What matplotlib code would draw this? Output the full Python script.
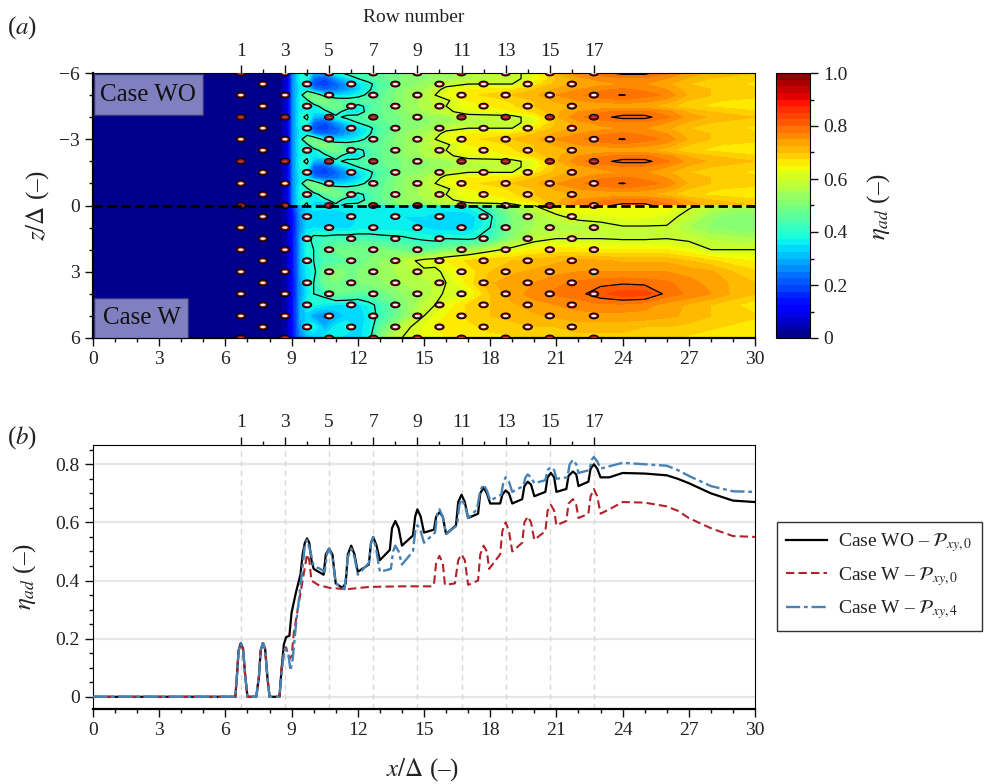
import matplotlib
matplotlib.use("Agg")
import matplotlib.pyplot as plt
import numpy as np
from matplotlib.patches import Ellipse, Rectangle
from matplotlib.ticker import MultipleLocator

plt.rcParams["font.family"] = ["Liberation Serif", "DejaVu Serif"]
plt.rcParams["mathtext.fontset"] = "stix"

W, H = 988, 784

# Data
row_x = [6.7, 7.7, 8.7, 9.7, 10.7, 11.7, 12.7, 13.7, 14.7, 15.7, 16.7, 17.7, 18.7, 19.7, 20.7, 21.7, 22.7]
row_labels = ["1", "3", "5", "7", "9", "11", "13", "15", "17"]
dark_holes = [(1, -6), (1, -4), (1, -2), (1, 0), (3, -4), (3, -2), (3, 0), (5, -4), (5, -2), (5, 0), (7, -4), (7, -2),
              (7, 0), (9, 0), (11, -6), (11, -4), (11, -2), (11, 0), (13, -4), (13, -2), (15, -4), (15, -2), (15, 0),
              (17, -4), (17, -2), (1, 6), (3, 6), (5, 6), (7, 6), (9, 6), (11, 6), (13, 6), (15, 6), (17, 6)]

field_x = [0, 8.4, 8.8, 9.1, 9.4, 9.7, 10, 10.5, 11, 11.5, 12, 12.5, 13, 14, 15, 15.5, 16,
           17, 18, 19, 20, 21, 22, 23, 24, 25, 26, 27, 28, 29, 30]

# Case WO repeats every 2 units of z, rows are 0.25 apart starting at z=-6
wo_phase = [
    [0, 0, .09, .28, .38, .42, .30, .28, .38, .42, .44, .46, .47, .50, .52, .53, .54, .58, .58, .58, .63, .72, .77, .79, .81, .81, .78, .74, .72, .71, .70],
    [0, 0, .09, .28, .38, .38, .22, .20, .27, .34, .40, .44, .46, .50, .52, .53, .54, .56, .57, .58, .63, .70, .74, .76, .77, .77, .75, .72, .70, .69, .68],
    [0, 0, .09, .28, .37, .34, .20, .18, .22, .28, .34, .38, .44, .50, .53, .55, .58, .60, .60, .60, .66, .71, .73, .74, .75, .75, .73, .70, .69, .68, .67],
    [0, 0, .09, .28, .36, .36, .26, .22, .24, .28, .33, .39, .45, .52, .55, .58, .62, .65, .66, .67, .70, .73, .75, .77, .78, .77, .75, .71, .70, .69, .68],
    [0, 0, .09, .28, .37, .50, .50, .36, .33, .34, .37, .42, .46, .52, .56, .60, .63, .67, .68, .70, .72, .75, .77, .79, .802, .785, .77, .72, .70, .70, .69],
    [0, 0, .09, .28, .38, .38, .48, .52, .46, .44, .45, .46, .47, .52, .56, .58, .59, .65, .66, .68, .70, .73, .75, .76, .77, .76, .74, .70, .68, .67, .66],
    [0, 0, .09, .28, .38, .36, .36, .45, .50, .46, .38, .42, .47, .52, .56, .58, .60, .65, .65, .67, .70, .71, .73, .73, .73, .73, .71, .68, .67, .66, .65],
    [0, 0, .09, .28, .37, .38, .36, .38, .44, .36, .34, .44, .47, .52, .55, .57, .59, .62, .63, .65, .68, .72, .75, .77, .78, .78, .76, .72, .70, .69, .68],
]

# Case W, rows are 0.5 apart from z=0 to z=6
w_rows = [
    [0, 0, .06, .18, .30, .34, .36, .36, .36, .37, .37, .37, .37, .37, .37, .37, .37, .38, .45, .53, .60, .64, .65, .65, .65, .65, .64, .61, .58, .56, .56],
    [0, 0, .05, .15, .28, .33, .34, .33, .33, .34, .35, .35, .35, .35, .35, .34, .33, .33, .39, .50, .55, .59, .62, .62, .63, .63, .62, .58, .53, .51, .50],
    [0, 0, .05, .15, .27, .34, .35, .34, .34, .34, .36, .36, .36, .36, .35, .34, .33, .33, .40, .50, .55, .56, .56, .58, .595, .595, .595, .55, .52, .51, .51],
    [0, 0, .05, .15, .30, .38, .42, .42, .43, .43, .43, .43, .42, .41, .39, .38, .40, .39, .42, .52, .58, .60, .60, .60, .595, .595, .60, .59, .57, .56, .55],
    [0, 0, .05, .15, .30, .38, .40, .46, .48, .49, .50, .50, .50, .48, .46, .47, .50, .53, .58, .62, .65, .66, .66, .65, .65, .65, .65, .63, .60, .60, .60],
    [0, 0, .05, .15, .30, .38, .40, .43, .44, .47, .48, .50, .52, .57, .62, .63, .65, .68, .70, .70, .71, .72, .73, .73, .72, .72, .72, .70, .68, .66, .65],
    [0, 0, .05, .15, .30, .36, .38, .50, .52, .50, .50, .52, .53, .56, .59, .58, .62, .66, .70, .72, .73, .74, .75, .75, .75, .75, .75, .74, .73, .70, .68],
    [0, 0, .05, .15, .28, .36, .40, .48, .50, .50, .50, .51, .52, .55, .56, .58, .60, .66, .72, .74, .75, .77, .78, .79, .795, .79, .78, .76, .74, .72, .70],
    [0, 0, .05, .15, .28, .35, .40, .42, .48, .47, .46, .46, .48, .52, .55, .58, .61, .62, .70, .74, .76, .78, .79, .82, .84, .84, .79, .77, .75, .72, .70],
    [0, 0, .05, .15, .30, .38, .38, .36, .35, .35, .34, .38, .42, .50, .58, .60, .63, .68, .70, .72, .74, .75, .76, .77, .77, .76, .74, .72, .70, .68, .66],
    [0, 0, .05, .15, .30, .33, .28, .26, .30, .33, .33, .36, .42, .50, .60, .63, .65, .68, .70, .71, .72, .73, .74, .74, .74, .74, .73, .72, .70, .69, .68],
    [0, 0, .05, .15, .28, .36, .38, .30, .36, .38, .34, .36, .46, .58, .63, .65, .66, .67, .68, .69, .70, .70, .71, .71, .71, .70, .70, .69, .68, .67, .66],
    [0, 0, .05, .15, .25, .30, .32, .36, .36, .33, .33, .38, .50, .60, .63, .64, .65, .66, .67, .67, .68, .68, .69, .69, .69, .69, .68, .67, .66, .65, .65],
]

x_wo = [0, 6.45, 6.52, 6.6, 6.7, 6.8, 6.9, 7.0, 7.4, 7.52, 7.6, 7.7, 7.8, 7.9, 8.0, 8.45, 8.55, 8.65, 8.75, 8.9, 9.0, 9.2,
        9.4, 9.5, 9.6, 9.7, 9.8, 9.9, 10.0, 10.45, 10.55, 10.7, 10.85, 11.0, 11.3, 11.45, 11.55, 11.7, 11.85, 12.0, 12.5,
        12.6, 12.7, 12.85, 13.0, 13.45, 13.55, 13.7, 13.85, 14.0, 14.5, 14.6, 14.7, 14.85, 15.0, 15.45, 15.55, 15.7,
        15.85, 16.0, 16.45, 16.55, 16.7, 16.85, 17.0, 17.45, 17.55, 17.7, 17.85, 18.0, 18.45, 18.55, 18.7, 18.85, 19.0,
        19.45, 19.55, 19.7, 19.85, 20.0, 20.5, 20.6, 20.75, 20.9, 21.0, 21.45, 21.55, 21.75, 21.9, 22.0, 22.45, 22.55,
        22.7, 22.85, 23.0, 23.4, 24, 25, 26, 26.5, 27, 28, 29, 30]
eta_wo = [0, 0, .07, .16, .185, .165, .07, 0, 0, .07, .16, .185, .165, .07, 0, 0, .10, .18, .205, .21, .29, .36,
          .42, .49, .53, .545, .53, .47, .44, .42, .49, .51, .49, .39, .375, .39, .49, .52, .49, .43, .455,
          .53, .55, .52, .47, .505, .58, .605, .58, .52, .555, .62, .645, .62, .565, .575, .62, .635, .62, .56, .59, .67, .695,
          .67, .615, .63, .70, .72, .70, .665, .665, .695, .71, .70, .665, .68, .725, .74, .73, .69, .705, .755, .77, .755, .705,
          .715, .76, .775, .765, .725, .74, .785, .80, .785, .755, .755, .77, .768, .762, .75, .735, .70, .675, .67]

x_red = [0, 6.45, 6.52, 6.6, 6.7, 6.8, 6.9, 7.0, 7.4, 7.52, 7.6, 7.7, 7.8, 7.9, 8.0, 8.45, 8.55, 8.65, 8.75, 8.9, 9.0, 9.1,
         9.3, 9.5, 9.7, 9.8, 9.9, 10.2, 10.7, 11.5, 12.5, 14, 15.3, 15.45, 15.55, 15.7, 15.85, 15.95, 16.4, 16.55, 16.7,
         16.85, 17.0, 17.45, 17.55, 17.7, 17.85, 17.95, 18.45, 18.55, 18.7, 18.85, 19.0, 19.45, 19.55, 19.7, 19.85, 20.0,
         20.5, 20.6, 20.75, 20.9, 21.0, 21.45, 21.55, 21.75, 21.9, 22.0, 22.45, 22.55, 22.7, 22.85, 23.0, 23.4, 24, 25,
         26, 26.5, 27, 28, 29, 30]
eta_red = [0, 0, .07, .16, .185, .165, .07, 0, 0, .07, .16, .185, .165, .07, 0, 0, .10, .16, .17, .13, .14, .22,
           .31, .40, .49, .47, .40, .385, .375, .37, .378, .38, .38, .385, .46, .485, .46, .385, .39, .47, .49,
           .47, .385, .40, .49, .52, .50, .44, .49, .57, .60, .57, .50, .53, .60, .62, .60, .54,
           .57, .64, .66, .64, .59, .605, .665, .68, .66, .615, .63, .69, .715, .69, .63, .645, .67, .668,
           .655, .64, .615, .58, .553, .55]

x_blue = [0, 6.45, 6.52, 6.6, 6.7, 6.8, 6.9, 7.0, 7.4, 7.52, 7.6, 7.7, 7.8, 7.9, 8.0, 8.45, 8.6, 8.7, 8.85, 8.95, 9.05, 9.2,
          9.4, 9.6, 9.7, 9.85, 10.0, 10.3, 10.5, 10.6, 10.7, 10.85, 11.0, 11.4, 11.55, 11.7, 11.85, 12.0, 12.5, 12.6, 12.7,
          12.85, 13.0, 13.5, 13.6, 13.7, 13.85, 14.0, 14.5, 14.6, 14.7, 14.85, 15.0, 15.5, 15.6, 15.7, 15.85, 16.0, 16.5,
          16.6, 16.7, 16.85, 17.0, 17.4, 17.55, 17.7, 17.85, 18.0, 18.5, 18.6, 18.7, 18.85, 19.0, 19.5, 19.6, 19.7, 19.85,
          20.0, 20.5, 20.6, 20.75, 20.9, 21.0, 21.5, 21.6, 21.75, 21.9, 22.0, 22.5, 22.6, 22.7, 22.85, 23.0, 23.5, 24, 25,
          26, 26.5, 27, 28, 29, 30]
eta_blue = [0, 0, .07, .16, .185, .165, .07, 0, 0, .07, .16, .185, .165, .07, 0, 0, .12, .165, .15, .09, .13, .25,
            .38, .52, .54, .50, .45, .44, .43, .49, .51, .48, .39, .37, .48, .51, .48, .42, .46, .53, .55,
            .50, .43, .44, .50, .52, .50, .455, .50, .57, .59, .57, .53, .565, .63, .645, .62, .56, .59,
            .66, .68, .66, .615, .645, .71, .73, .71, .675, .695, .74, .755, .74, .705, .725, .755, .765, .755,
            .735, .745, .78, .79, .78, .75, .755, .80, .815, .80, .77, .78, .815, .825, .81, .785, .795, .805, .80,
            .795, .78, .76, .725, .707, .705]

cbar_ticks = [0, 0.2, 0.4, 0.6, 0.8, 1.0]
cbar_labels = ["0", "0.2", "0.4", "0.6", "0.8", "1.0"]


def axes_box(left, top, right, bottom):
    return [left / W, 1 - bottom / H, (right - left) / W, (bottom - top) / H]


def style_ticks(ax):
    ax.tick_params(which="major", direction="out", length=6, width=1, labelsize=14, color="#111111", labelcolor="#222222")
    ax.tick_params(which="minor", direction="out", length=3, width=1, color="#111111")


def add_row_axis(ax):
    top = ax.twiny()
    top.set_xlim(ax.get_xlim())
    top.set_xticks(row_x[::2])
    top.set_xticklabels(row_labels)
    top.set_xticks(row_x[1::2], minor=True)
    style_ticks(top)
    for spine in top.spines.values():
        spine.set_visible(False)
    return top


fig = plt.figure(figsize=(W / 100, H / 100), dpi=100)

# Panel a, filled contours
ax1 = fig.add_axes(axes_box(93, 73, 755, 338))
levels = np.linspace(0, 1, 41)
z_wo = np.arange(-6, 0.01, 0.25)
z_w = np.arange(0, 6.01, 0.5)
field_wo = np.array([wo_phase[k % 8] for k in range(len(z_wo))])
field_w = np.array(w_rows)
for z, field in ((z_wo, field_wo), (z_w, field_w)):
    cf = ax1.contourf(field_x, z, field, levels=levels, cmap="jet", vmin=0, vmax=1)
    ax1.contour(field_x, z, field, levels=[0.4, 0.6, 0.8], colors="black", linewidths=0.9)
ax1.set_xlim(0, 30)
ax1.set_ylim(6, -6)

# Holes
for n, x in enumerate(row_x, start=1):
    zs = np.arange(-6, 6.01, 1) if n % 2 == 1 else np.arange(-5.5, 5.51, 1)
    for z in zs:
        ax1.add_patch(Ellipse((x, z), 0.47, 0.31, fc="black", ec="none", zorder=4))
        ax1.add_patch(Ellipse((x, z), 0.37, 0.21, fc="#8b1010", ec="none", zorder=5))
        inner = 0.07 if (n, z) in dark_holes else 0.11
        color = "#b05050" if (n, z) in dark_holes else "#fff4f4"
        ax1.add_patch(Ellipse((x, z), 0.24, inner, fc=color, ec="none", zorder=6))

ax1.axhline(0, color="black", lw=2, ls=(0, (3.4, 1.6)), zorder=7)
ax1.add_patch(Rectangle((0.05, -5.95), 4.95, 1.85, fc="#8080c0", ec="#303080", lw=1, zorder=8))
ax1.add_patch(Rectangle((0.05, 4.18), 4.25, 1.8, fc="#8080c0", ec="#303080", lw=1, zorder=8))
ax1.text(2.5, -5.0, "Case WO", fontsize=18, ha="center", va="center", color="#111111", zorder=9)
ax1.text(2.2, 5.1, "Case W", fontsize=18, ha="center", va="center", color="#111111", zorder=9)

ax1.set_xticks(np.arange(0, 31, 3))
ax1.xaxis.set_minor_locator(MultipleLocator(1))
ax1.set_yticks([-6, -3, 0, 3, 6])
ax1.set_yticklabels(["\u22126", "\u22123", "0", "3", "6"])
ax1.yaxis.set_minor_locator(MultipleLocator(1))
style_ticks(ax1)
ax1.spines["left"].set_linewidth(1.6)
ax1.spines["bottom"].set_linewidth(1.6)
add_row_axis(ax1)
fig.text(414 / W, 1 - 18 / H, "Row number", fontsize=14, ha="center", va="center", color="#222222")
fig.text(38 / W, 1 - 205 / H, "$z/\\Delta$ (\u2013)", fontsize=18, rotation=90, ha="center", va="center", color="#222222")

# Colour bar
cax = fig.add_axes(axes_box(776, 73, 810, 338))
cb = fig.colorbar(cf, cax=cax, ticks=cbar_ticks)
cb.ax.set_yticklabels(cbar_labels)
cb.ax.yaxis.set_minor_locator(MultipleLocator(0.1))
style_ticks(cb.ax)
fig.text(879 / W, 1 - 207 / H, "$\\eta_{ad}$ (\u2013)", fontsize=18, rotation=90, ha="center", va="center", color="#222222")

# Panel b, lines
ax2 = fig.add_axes(axes_box(93, 444.5, 755, 708.7))
for y in [0, 0.2, 0.4, 0.6, 0.8]:
    ax2.axhline(y, color="#e6e6e6", lw=1.6, zorder=1)
for x in row_x[::2]:
    ax2.axvline(x, color="#d8d8d8", lw=1, ls=(0, (4, 3)), zorder=1)
ax2.plot(x_wo, eta_wo, color="black", lw=1.6, zorder=3, label="Case WO \u2013 $\\mathcal{P}_{xy,0}$")
ax2.plot(x_red, eta_red, color="#b2222a", lw=1.5, ls=(0, (4, 2)), zorder=4, label="Case W \u2013 $\\mathcal{P}_{xy,0}$")
ax2.plot(x_blue, eta_blue, color="#4682b4", lw=1.7, ls=(0, (6, 1.6, 1.6, 1.6)), zorder=5, label="Case W \u2013 $\\mathcal{P}_{xy,4}$")
ax2.set_xlim(0, 30)
ax2.set_ylim(-0.041, 0.868)
ax2.set_xticks(np.arange(0, 31, 3))
ax2.xaxis.set_minor_locator(MultipleLocator(1))
ax2.set_yticks([0, 0.2, 0.4, 0.6, 0.8])
ax2.set_yticklabels(["0", "0.2", "0.4", "0.6", "0.8"])
ax2.yaxis.set_minor_locator(MultipleLocator(0.05))
style_ticks(ax2)
ax2.spines["bottom"].set_linewidth(1.6)
add_row_axis(ax2)
fig.text(423 / W, 1 - 770 / H, "$x/\\Delta$ (\u2013)", fontsize=18, ha="center", va="center", color="#222222")
fig.text(25 / W, 1 - 577 / H, "$\\eta_{ad}$ (\u2013)", fontsize=18, rotation=90, ha="center", va="center", color="#222222")

leg = ax2.legend(loc="upper left", bbox_to_anchor=(776.5 / W, 1 - 521.5 / H), bbox_transform=fig.transFigure,
                 fontsize=14, fancybox=False, edgecolor="#333333", framealpha=1, borderaxespad=0,
                 handlelength=2.1, labelspacing=0.55, borderpad=0.5, handletextpad=0.55)
leg.get_frame().set_linewidth(1)
for text in leg.get_texts():
    text.set_color("#222222")

fig.text(7 / W, 1 - 28 / H, "($a$)", fontsize=18, ha="left", va="center", color="#222222")
fig.text(7 / W, 1 - 438 / H, "($b$)", fontsize=18, ha="left", va="center", color="#222222")

fig.savefig("out.png", dpi=100)
